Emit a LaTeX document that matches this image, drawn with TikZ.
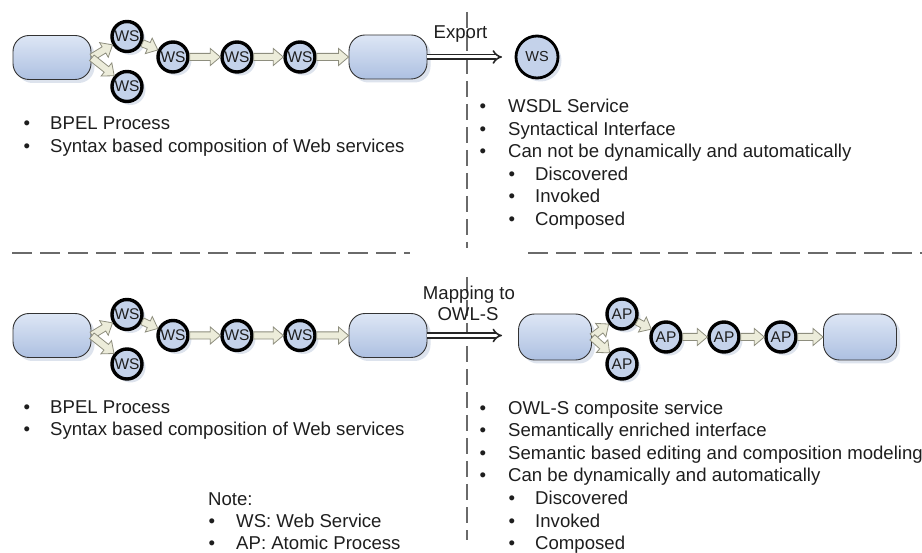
\documentclass[tikz,border=0pt]{standalone}
\usepackage{fontspec}
\setmainfont{Liberation Sans}
\usetikzlibrary{arrows.meta,shadows,calc}

\definecolor{shapefillA}{HTML}{DDE6F5}
\definecolor{shapefillB}{HTML}{ADC0E1}
\definecolor{svcfill}{HTML}{C4D2EA}
\definecolor{shadowc}{HTML}{DDE3ED}
\definecolor{arrowfill}{HTML}{ECECDA}
\definecolor{arrowedge}{HTML}{8E8E7E}
\definecolor{sepline}{HTML}{6A6A6A}
\definecolor{textc}{HTML}{1E1E1E}

% block arrow from the border of node #1 to the border of node #2
\newcommand\flowarrow[2]{%
  \pgfpointdiff{\pgfpointanchor{#1}{center}}{\pgfpointanchor{#2}{center}}%
  \pgfgetlastxy{\fdx}{\fdy}%
  \pgfmathsetmacro\fang{atan2(\fdy,\fdx)}%
  \pgfmathsetmacro\fback{\fang+180}%
  \draw[flowarr] let \p1=(#1.\fang), \p2=(#2.\fback),
      \p3=($(\p2)+(\fback:10pt)$) in
    ($(\p1)+(\fang+90:3.6pt)$) -- ($(\p3)+(\fang+90:3.6pt)$)
    -- ($(\p3)+(\fang+90:8.5pt)$) -- (\p2)
    -- ($(\p3)+(\fang-90:8.5pt)$) -- ($(\p3)+(\fang-90:3.6pt)$)
    -- ($(\p1)+(\fang-90:3.6pt)$) -- cycle;}

% bullet line: name, bullet x, text x, baseline y, text
\newcommand\bitem[5]{%
  \node[txt, anchor=base] (#1b) at (#2,#4) {•};
  \node[txt, anchor=base west] (#1) at (#3,#4) {#5};}

\begin{document}
\begin{tikzpicture}[x=1pt, y=-1pt,
  txt/.style={inner sep=0pt, text=textc, font=\fontsize{18.6}{22.5}\selectfont},
  soft/.style={drop shadow={shadow xshift=3.5pt, shadow yshift=-3.5pt, fill=shadowc, draw=none, opacity=1}},
  proc/.style={rectangle, rounded corners=16pt, draw=black!80, line width=0.9pt,
    minimum width=78pt, minimum height=44pt, inner sep=0pt,
    top color=shapefillA, bottom color=shapefillB, soft},
  procs/.style={proc, minimum width=73pt, minimum height=46pt},
  svc/.style={circle, minimum size=30pt, inner sep=0pt, soft,
    fill=svcfill, draw=black, line width=3.4pt, text=textc,
    font=\fontsize{15.5}{15.5}\selectfont},
  bigsvc/.style={svc, line width=2.8pt, minimum size=42pt, font=\fontsize{14.5}{14.5}\selectfont},
  fork/.style={circle, inner sep=0pt, minimum size=1pt, outer sep=0pt},
  flowarr/.style={draw=arrowedge, fill=arrowfill, line width=0.8pt, line join=miter},
  bigarrow/.style={draw=black!85, line width=1.6pt, double=white, double distance=3pt, -{Implies[scale=1.5]}},
  hsep/.style={draw=sepline, line width=1.7pt, dash pattern=on 20pt off 8pt},
  vsep/.style={draw=sepline, line width=1.4pt, dash pattern=on 16pt off 7pt},
]
\useasboundingbox (0,0) rectangle (922,553);

% separators
\draw[vsep] (467,12) -- (467,248);
\draw[vsep] (467,277) -- (467,540);
\draw[hsep] (12,253) -- (410,253);
\draw[hsep] (528,253) -- (922,253);

% ---- upper BPEL process
\node[proc] (s1) at (52,57.5) {};
\node[fork] (f1) at (s1.east) {};
\node[svc] (u1) at (127,36.5) {WS};
\node[svc] (l1) at (127,86.5) {WS};
\node[svc] (a1) at (173,57) {WS};
\node[svc] (b1) at (237,57) {WS};
\node[svc] (c1) at (300,57) {WS};
\node[proc] (e1) at (388,57) {};
\flowarrow{f1}{u1}
\flowarrow{f1}{l1}
\flowarrow{u1}{a1}
\flowarrow{a1}{b1}
\flowarrow{b1}{c1}
\flowarrow{c1}{e1}

% exported WSDL service
\node[bigsvc] (w1) at (537,57) {WS};
\coordinate (x1) at (502,57);
\draw[bigarrow] (e1.east) -- (x1);
\node[txt, anchor=base] (exportlbl) at (460.5,38.5) {Export};

\bitem{t1}{27}{50}{130}{BPEL Process}
\bitem{t2}{27}{50}{152.5}{Syntax based composition of Web services}

\bitem{r1}{483}{508}{113}{WSDL Service}
\bitem{r2}{483}{508}{135.5}{Syntactical Interface}
\bitem{r3}{483}{508}{158}{Can not be dynamically and automatically}
\bitem{r4}{512}{535}{180.5}{Discovered}
\bitem{r5}{512}{535}{203}{Invoked}
\bitem{r6}{512}{535}{225.5}{Composed}

% ---- lower BPEL process
\node[proc] (s2) at (52,335.5) {};
\node[fork] (f2) at (s2.east) {};
\node[svc] (u2) at (127,314.5) {WS};
\node[svc] (l2) at (127,364) {WS};
\node[svc] (a2) at (173,335.5) {WS};
\node[svc] (b2) at (237,335.5) {WS};
\node[svc] (c2) at (300,335.5) {WS};
\node[proc] (e2) at (388,335.5) {};
\flowarrow{f2}{u2}
\flowarrow{f2}{l2}
\flowarrow{u2}{a2}
\flowarrow{a2}{b2}
\flowarrow{b2}{c2}
\flowarrow{c2}{e2}

% ---- OWL-S composite service
\node[procs] (s3) at (555,337) {};
\node[fork] (f3) at (s3.east) {};
\node[svc] (u3) at (622,314) {AP};
\node[svc] (l3) at (622,364) {AP};
\node[svc] (a3) at (666,337) {AP};
\node[svc] (b3) at (724,337) {AP};
\node[svc] (c3) at (781,337) {AP};
\node[procs] (e3) at (860,337) {};
\flowarrow{f3}{u3}
\flowarrow{f3}{l3}
\flowarrow{u3}{a3}
\flowarrow{a3}{b3}
\flowarrow{b3}{c3}
\flowarrow{c3}{e3}

\coordinate (x2) at (502,335.5);
\draw[bigarrow] (e2.east) -- (x2);
\node[txt, anchor=base] (maplbl1) at (469,300) {Mapping to};
\node[txt, anchor=base] (maplbl2) at (468,320.5) {OWL-S};

\bitem{t3}{27}{50}{413.5}{BPEL Process}
\bitem{t4}{27}{50}{436}{Syntax based composition of Web services}

\bitem{q1}{483}{508}{415}{OWL-S composite service}
\bitem{q2}{483}{508}{437}{Semantically enriched interface}
\bitem{q3}{483}{508}{459.5}{Semantic based editing and composition modeling}
\bitem{q4}{483}{508}{482}{Can be dynamically and automatically}
\bitem{q5}{512}{535}{504.5}{Discovered}
\bitem{q6}{512}{535}{527}{Invoked}
\bitem{q7}{512}{535}{549.5}{Composed}

% legend
\node[txt, anchor=base west] (note) at (208,506) {Note:};
\bitem{n1}{212}{236}{528}{WS: Web Service}
\bitem{n2}{212}{236}{549.5}{AP: Atomic Process}
\end{tikzpicture}
\end{document}
